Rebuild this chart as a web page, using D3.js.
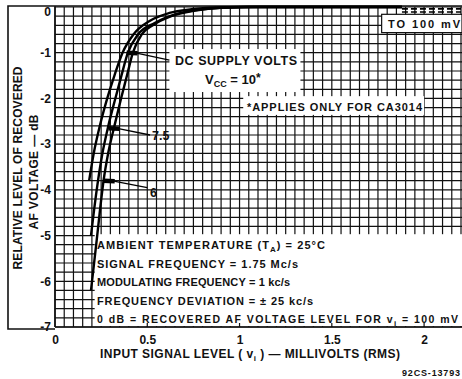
<!DOCTYPE html>
<html>
<head>
<meta charset="utf-8">
<script src="https://cdn.jsdelivr.net/npm/d3@7"></script>
<style>
  body { margin: 0; background: #fff; }
  svg { display: block; }
  text { font-family: "Liberation Sans", Arial, sans-serif; font-weight: bold; fill: #111; }
</style>
</head>
<body>
<div id="chart"></div>
<script>
// curves: [input mV, relative level dB]
const vcc10 = [[0.185,-3.8],[0.21,-3.2],[0.243,-2.6],[0.283,-2.0],[0.322,-1.5],[0.366,-1.0],[0.425,-0.6],[0.515,-0.3],[0.62,-0.13],[0.74,-0.05],[0.88,-0.01],[1.0,0],[1.88,0]];
const vcc75 = [[0.195,-5.0],[0.226,-4.0],[0.257,-3.2],[0.289,-2.6],[0.327,-2.0],[0.36,-1.5],[0.395,-1.0],[0.45,-0.6],[0.54,-0.35],[0.66,-0.15],[0.8,-0.05],[0.93,-0.01],[1.05,0],[1.88,0]];
const vcc6 = [[0.195,-6.2],[0.226,-5.1],[0.245,-4.4],[0.263,-3.8],[0.288,-3.2],[0.322,-2.6],[0.358,-2.0],[0.39,-1.5],[0.422,-1.0],[0.47,-0.6],[0.53,-0.4],[0.63,-0.2],[0.76,-0.08],[0.9,-0.02],[1.1,0],[1.88,0]];
// "to 100 mV" continuation, dashed
const extUpper = [[1.88,-0.04],[2.2,-0.04]];
const extLower = [[1.88,-0.11],[2.2,-0.11]];

const xTicks = [0, 0.5, 1, 1.5, 2];
const yTicks = [0, -1, -2, -3, -4, -5, -6, -7];
const conditions = [
    ['AMBIENT TEMPERATURE (T', 'A', ') = 25°C'],
    ['SIGNAL FREQUENCY = 1.75 Mc/s'],
    ['MODULATING FREQUENCY = 1 kc/s'],
    ['FREQUENCY DEVIATION = ± 25 kc/s'],
    ['0 dB = RECOVERED AF VOLTAGE LEVEL FOR v', 'i', ' = 100 mV']
];
const conditionWidths = [228, 201, 193, 216, 361];

const W = 462, H = 379;
const svg = d3.select('#chart').append('svg')
    .attr('width', W)
    .attr('height', H);

const x = d3.scaleLinear().domain([0, 2.2]).range([55, 461]);
const y = d3.scaleLinear().domain([0, -7]).range([7, 327]);

// graph paper
const grid = svg.append('g').attr('stroke', '#111').attr('stroke-width', 1.2);
grid.selectAll('.vg')
    .data(d3.range(0, 45).map(i => i * 0.05))
    .enter().append('line')
    .attr('x1', d => x(d)).attr('x2', d => x(d))
    .attr('y1', y(0)).attr('y2', y(-7));
grid.selectAll('.hg')
    .data(d3.range(0, 36).map(i => -i * 0.2))
    .enter().append('line')
    .attr('x1', x(0)).attr('x2', W)
    .attr('y1', d => y(d)).attr('y2', d => y(d));

// outer frame
const frame = svg.append('g').attr('stroke', '#111').attr('stroke-width', 1.6).attr('fill', 'none');
frame.append('path').attr('d', `M${W},6H8V329H${x(0)}`);
frame.append('line').attr('x1', x(0)).attr('x2', x(0)).attr('y1', 6).attr('y2', y(-7));
frame.append('line').attr('x1', x(0)).attr('x2', W).attr('y1', y(-7)).attr('y2', y(-7));

// white label areas
const boxes = [
    [x(0.62), y(-0.92), x(1.33), y(-1.86)],
    [x(1.02), y(-1.95), x(2.0), y(-2.36)],
    [x(1.77), y(-0.16), W, y(-0.56)],
    [x(0.215), y(-4.97), W, y(-7) - 1]
];
svg.append('g').selectAll('rect')
    .data(boxes)
    .enter().append('rect')
    .attr('x', d => d[0]).attr('y', d => d[1])
    .attr('width', d => d[2] - d[0]).attr('height', d => d[3] - d[1])
    .attr('fill', '#fff');
svg.append('rect')
    .attr('x', x(1.77)).attr('y', y(-0.16))
    .attr('width', W - x(1.77)).attr('height', y(-0.56) - y(-0.16))
    .attr('fill', 'none').attr('stroke', '#111').attr('stroke-width', 1.2);

// small ticks on the x axis inside the white block
svg.append('g').selectAll('line')
    .data(xTicks.slice(1))
    .enter().append('line')
    .attr('x1', d => x(d)).attr('x2', d => x(d))
    .attr('y1', y(-7) - 4).attr('y2', y(-7))
    .attr('stroke', '#111').attr('stroke-width', 1.2);

// curves
const line = d3.line()
    .x(d => x(d[0]))
    .y(d => y(d[1]))
    .curve(d3.curveMonotoneX);
svg.append('g').selectAll('path')
    .data([vcc10, vcc75, vcc6])
    .enter().append('path')
    .attr('d', line)
    .attr('fill', 'none')
    .attr('stroke', '#000')
    .attr('stroke-width', 2.4);
svg.append('g').selectAll('path')
    .data([extUpper, extLower])
    .enter().append('path')
    .attr('d', d3.line().x(d => x(d[0])).y(d => y(d[1])))
    .attr('fill', 'none')
    .attr('stroke', '#000')
    .attr('stroke-width', 1.6)
    .attr('stroke-dasharray', '6,3');

// pointers to the curves
const pointers = [
    {tip: [0.388, -1.0], end: [0.62, -1.16]},
    {tip: [0.29, -2.65], end: [0.515, -2.8]},
    {tip: [0.264, -3.8], end: [0.5, -3.95]}
];
const ptr = svg.append('g').attr('stroke', '#000');
pointers.forEach(p => {
    const x0 = x(p.tip[0]), y0 = y(p.tip[1]);
    ptr.append('line')
        .attr('x1', x0).attr('y1', y0).attr('x2', x0 + 11).attr('y2', y0 + 0.5)
        .attr('stroke-width', 4.5);
    ptr.append('line')
        .attr('x1', x0 + 10).attr('y1', y0 + 0.5).attr('x2', x(p.end[0])).attr('y2', y(p.end[1]))
        .attr('stroke-width', 1.3);
});

// axes
const yAxis = d3.axisLeft(y)
    .tickValues(yTicks)
    .tickSize(0)
    .tickPadding(3)
    .tickFormat(d => d === 0 ? '0' : '-' + Math.abs(d));
const gy = svg.append('g').attr('transform', `translate(${x(0) - 1},0)`).call(yAxis);
gy.select('.domain').remove();
gy.selectAll('text')
    .attr('font-size', 12)
    .attr('font-family', null)
    .attr('y', d => d === 0 ? 5 : 0);

const xAxis = d3.axisBottom(x)
    .tickValues(xTicks)
    .tickSize(0)
    .tickPadding(8)
    .tickFormat(d => d === 0 ? '0' : String(d));
const gx = svg.append('g').attr('transform', `translate(0,${y(-7)})`).call(xAxis);
gx.select('.domain').remove();
gx.selectAll('text').attr('font-size', 12).attr('font-family', null);

// axis titles
svg.append('text')
    .attr('transform', 'translate(22,168) rotate(-90)')
    .attr('text-anchor', 'middle')
    .attr('font-size', 12)
    .attr('textLength', 203)
    .attr('lengthAdjust', 'spacing')
    .text('RELATIVE LEVEL OF RECOVERED');
svg.append('text')
    .attr('transform', 'translate(38,172) rotate(-90)')
    .attr('text-anchor', 'middle')
    .attr('font-size', 12)
    .attr('textLength', 115)
    .attr('lengthAdjust', 'spacing')
    .text('AF VOLTAGE — dB');

const xt = svg.append('text')
    .attr('x', 100).attr('y', 358)
    .attr('font-size', 12)
    .attr('textLength', 300)
    .attr('lengthAdjust', 'spacing');
xt.append('tspan').text('INPUT SIGNAL LEVEL ( v');
xt.append('tspan').attr('font-size', 8).attr('dy', 3).text('i');
xt.append('tspan').attr('dy', -3).text(' ) — MILLIVOLTS (RMS)');

svg.append('text')
    .attr('x', 460).attr('y', 376)
    .attr('text-anchor', 'end')
    .attr('font-size', 9)
    .attr('font-weight', 'normal')
    .attr('textLength', 58)
    .attr('lengthAdjust', 'spacing')
    .text('92CS-13793');

// test conditions
conditions.forEach((parts, i) => {
    const t = svg.append('text')
        .attr('x', 97)
        .attr('y', 249 + i * 18.5)
        .attr('font-size', i === 4 ? 10.5 : 11)
        .attr('textLength', conditionWidths[i])
        .attr('lengthAdjust', 'spacing');
    parts.forEach((s, j) => {
        const sp = t.append('tspan').text(s);
        if (j === 1) sp.attr('font-size', 8).attr('dy', 3);
        if (j === 2) sp.attr('dy', -3);
    });
});

// curve labels
svg.append('text')
    .attr('x', 175).attr('y', 65)
    .attr('font-size', 12.5)
    .attr('textLength', 122)
    .attr('lengthAdjust', 'spacing')
    .text('DC SUPPLY VOLTS');
const vcc = svg.append('text').attr('x', 205).attr('y', 84).attr('font-size', 13);
vcc.append('tspan').text('V');
vcc.append('tspan').attr('font-size', 9).attr('dy', 3).text('CC');
vcc.append('tspan').attr('dy', -3).text(' = 10');
vcc.append('tspan').attr('dy', -2).attr('font-size', 12).text('*');

svg.append('text')
    .attr('x', 247).attr('y', 111)
    .attr('font-size', 11)
    .attr('textLength', 175)
    .attr('lengthAdjust', 'spacing')
    .text('*APPLIES ONLY FOR CA3014');
svg.append('text')
    .attr('x', 388).attr('y', 28)
    .attr('font-size', 11)
    .attr('textLength', 72)
    .attr('lengthAdjust', 'spacing')
    .text('TO  100 mV');

svg.append('text').attr('x', 152).attr('y', 140).attr('font-size', 12.5).text('7.5');
svg.append('text').attr('x', 150).attr('y', 197).attr('font-size', 12.5).text('6');
</script>
</body>
</html>
